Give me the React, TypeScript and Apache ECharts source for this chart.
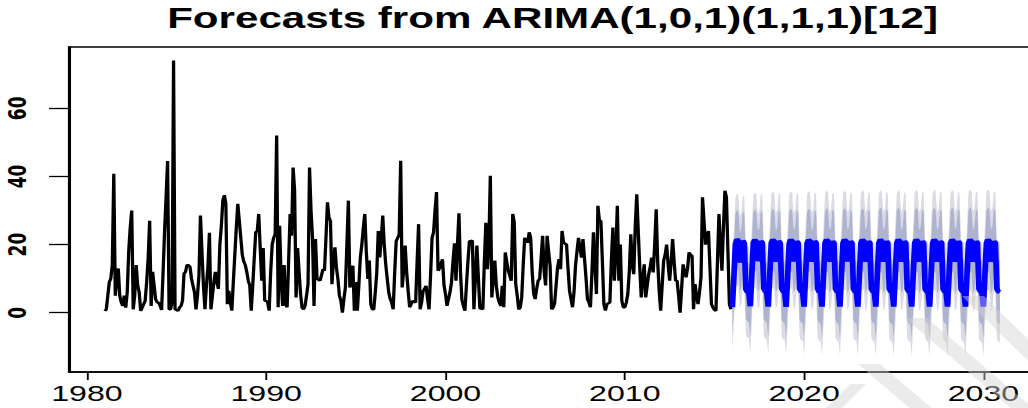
import React, { useEffect, useRef } from "react";
import * as echarts from "echarts";

const TITLE = "Forecasts from ARIMA(1,0,1)(1,1,1)[12]";
const HIST_START = 1981;
const FC_START = 2016;
const X_TICKS = [1980, 1990, 2000, 2010, 2020, 2030];
const Y_TICKS = [0, 20, 40, 60];

// monthly observations, Jan 1981 - Dec 2015
const history = [
  0.5, 1, 5, 9, 10, 14, 40.8, 5, 10, 13, 5, 3,
  2, 5, 1.5, 6, 18, 25, 30, 1, 5, 14, 8, 6,
  0.5, 1.5, 2.5, 3.5, 9, 16, 27, 2, 12, 8, 4, 3,
  3, 2, 0.8, 12, 24, 34, 44.5, 1, 1, 3, 74, 1,
  0.8, 0.5, 1.5, 2, 3.5, 11.5, 12, 14, 14, 13.5, 10, 8,
  6, 1, 5, 11, 28.5, 18, 8, 1, 8, 13.5, 23.5, 1,
  5, 9, 12, 9, 7, 20, 25.6, 33, 34.5, 32, 2.5, 6.4,
  3, 0.6, 9, 17, 25, 32, 27, 22, 17, 15, 14, 12,
  9.4, 8, 0.6, 8, 16, 23.6, 24, 29, 19, 9.4, 19, 3.5,
  3.5, 3, 0.6, 12, 20, 22, 23, 52, 1.6, 25.5, 10, 2,
  14, 2.5, 1.6, 15, 29, 22.6, 42.6, 36, 4.5, 19, 12, 5.5,
  1.5, 1, 2, 5, 8.4, 42.6, 30, 22, 2, 21.6, 10, 9.7,
  9.4, 11, 12.8, 12.3, 22, 32.4, 28, 27, 8.4, 15, 19.2, 13.3,
  9.9, 5, 3.5, 0, 4, 7.4, 20, 32.9, 7.4, 10, 13.8, 0.6,
  9, 0.6, 8, 16.2, 20, 25, 29, 18, 9.9, 15.3, 2.5, 1,
  1, 6, 11.8, 24, 16.2, 22, 28.5, 20, 14.2, 10, 6, 4,
  3, 1, 12, 21, 22, 23, 44.6, 7.4, 12.3, 19.7, 12, 6.4,
  1.6, 2.5, 3.5, 3.2, 3, 15, 26, 1, 3, 6.4, 7, 7.9,
  4, 1, 11, 22, 23.6, 30, 35.4, 12.3, 13, 14.5, 15.7, 8,
  5.5, 2, 4, 6, 8.9, 15, 20.4, 9.4, 20, 29.2, 12, 3.7,
  2, 0.6, 8, 15, 21, 21, 21.2, 1, 10, 19.7, 10.4, 1.3,
  1.2, 1, 15, 26.4, 12.8, 20, 40.2, 4.5, 10, 15.3, 8, 4.5,
  3, 2, 7.9, 1.6, 17.7, 15, 12.3, 11, 9.4, 29, 26.5, 8.4,
  5, 1, 1.5, 4.5, 14, 22, 21, 20.6, 23.6, 22, 12, 5.5,
  4, 7, 9.4, 9.9, 16, 22.6, 12.3, 8, 22.6, 18, 13.8, 1,
  1.5, 2.7, 8, 13.3, 15.7, 12.8, 24, 20.6, 20.3, 20, 13, 6.4,
  4, 1.6, 6, 13.8, 18, 22, 19, 16.2, 21.6, 16, 10.4, 4,
  3, 1.6, 12, 23.6, 14, 5.5, 31.4, 27, 27, 15, 2.5, 0.6,
  2.5, 2.8, 3, 15.3, 25, 9.4, 18, 31.4, 9.4, 20, 3.5, 1.6,
  1.6, 3, 5.5, 12, 23, 14, 11.3, 25.5, 34.8, 24, 13.3, 4.5,
  10, 14.2, 4.5, 8, 11.3, 13.5, 16.2, 11.8, 20, 30.4, 15, 6.4,
  0.6, 8, 15.3, 17, 20, 14, 9.4, 15, 21.6, 15, 9.4, 9.4,
  5, 0, 7, 14.2, 12, 10.4, 13, 17.7, 17, 16.7, 1, 8.4,
  5, 2.5, 6, 10.4, 33.9, 27, 20, 22, 24, 13, 2.5, 1.5,
  0.8, 0.6, 15, 29, 20, 12.3, 25, 35.8, 33.9, 18, 2.5, 1,
];

// point forecasts, Jan 2016 - Dec 2030
const forecastMean = [
  1.6, 10.5, 20.2, 21.6, 21.1, 14.8, 16.1, 21.2, 20.4, 6.8, 6.1, 5.9,
  1.9, 11.2, 20.6, 21.4, 20.9, 15.2, 15.8, 21.0, 20.6, 7.1, 6.3, 6.0,
  1.8, 11.0, 20.5, 21.5, 21.0, 15.0, 16.0, 21.1, 20.5, 7.0, 6.2, 6.0,
  1.7, 10.9, 20.4, 21.5, 21.0, 15.1, 16.0, 21.0, 20.5, 7.0, 6.2, 6.1,
  1.8, 11.1, 20.5, 21.4, 21.0, 15.0, 15.9, 21.0, 20.6, 7.0, 6.1, 6.0,
  1.8, 11.0, 20.5, 21.5, 21.0, 15.0, 16.0, 21.0, 20.5, 7.0, 6.2, 6.0,
  1.8, 11.0, 20.5, 21.5, 21.0, 15.1, 16.0, 21.0, 20.5, 7.0, 6.2, 6.0,
  1.8, 11.0, 20.5, 21.5, 21.0, 15.0, 16.0, 21.0, 20.5, 7.0, 6.2, 6.0,
  1.8, 11.0, 20.5, 21.5, 21.0, 15.0, 16.0, 21.0, 20.5, 7.0, 6.2, 6.0,
  1.8, 11.0, 20.5, 21.5, 21.0, 15.0, 16.0, 21.0, 20.5, 7.0, 6.2, 6.0,
  1.8, 11.0, 20.5, 21.5, 21.0, 15.0, 16.0, 21.0, 20.5, 7.0, 6.2, 6.0,
  1.8, 11.0, 20.5, 21.5, 21.0, 15.0, 16.0, 21.0, 20.5, 7.0, 6.2, 6.0,
  1.8, 11.0, 20.5, 21.5, 21.0, 15.0, 16.0, 21.0, 20.5, 7.0, 6.2, 6.0,
  1.8, 11.0, 20.5, 21.5, 21.0, 15.0, 16.0, 21.0, 20.5, 7.0, 6.2, 6.0,
  1.8, 11.0, 20.5, 21.5, 21.0, 15.0, 16.0, 21.0, 20.5, 7.0, 6.2, 6.0,
];

// prediction-interval half-widths per forecast year
const hw80 = [8.6, 8.9, 9.0, 9.1, 9.1, 9.2, 9.2, 9.2, 9.3, 9.3, 9.3, 9.3, 9.4, 9.4, 9.4];
const hw95 = [13.4, 13.9, 14.1, 14.2, 14.3, 14.4, 14.4, 14.5, 14.5, 14.5, 14.6, 14.6, 14.6, 14.7, 14.7];

const SX = 1028 / 720;
const W = 730;
const H = 408;

// watermark stripes (screen px)
const stripes = [
  [[858, 364], [880, 364], [934, 410], [912, 410]],
  [[905, 318], [927, 318], [1035, 410], [1013, 410]],
  [[962, 296], [984, 296], [1100, 410], [1078, 410]],
  [[850, 384], [866, 384], [840, 410], [824, 410]],
];

export default function App() {
  const ref = useRef<HTMLDivElement>(null);
  useEffect(() => {
    const chart = echarts.init(ref.current!, null, { renderer: "svg" });
    const histData = history.map((v, i) => [HIST_START + i / 12, v]);
    const fcT = forecastMean.map((_, i) => FC_START + i / 12);
    const lo95 = forecastMean.map((v, i) => v - hw95[Math.floor(i / 12)]);
    const hi95 = forecastMean.map((v, i) => v + hw95[Math.floor(i / 12)]);
    const lo80 = forecastMean.map((v, i) => v - hw80[Math.floor(i / 12)]);
    const hi80 = forecastMean.map((v, i) => v + hw80[Math.floor(i / 12)]);

    const band = (lo: number[], hi: number[], color: string, name: string) => ({
      type: "custom",
      name,
      silent: true,
      clip: true,
      data: [[fcT[0], lo[0]]],
      renderItem: (params: any, api: any) => {
        const pts: number[][] = [];
        for (let i = 0; i < fcT.length; i++) pts.push(api.coord([fcT[i], hi[i]]));
        for (let i = fcT.length - 1; i >= 0; i--) pts.push(api.coord([fcT[i], lo[i]]));
        return {
          type: "polygon",
          shape: { points: pts },
          style: { fill: color, stroke: "none" },
        };
      },
    });

    chart.setOption({
      animation: false,
      backgroundColor: "#fff",
      title: {
        text: TITLE,
        left: 387,
        top: 3,
        padding: 0,
        textAlign: "center",
        textStyle: {
          fontFamily: "Liberation Sans",
          fontWeight: "bold",
          fontSize: 29.5,
          color: "#000",
        },
      },
      grid: {
        left: 48.3,
        right: 4.8,
        top: 47,
        bottom: 36,
        show: true,
        borderColor: "#000",
        borderWidth: 1.5,
        backgroundColor: "transparent",
        containLabel: false,
        outerBoundsMode: "none",
      },
      xAxis: {
        type: "value",
        min: 1979,
        max: 2032.9,
        axisLine: { show: true, onZero: false, lineStyle: { color: "#000", width: 1.5 } },
        axisTick: { show: true, length: 8, customValues: X_TICKS, lineStyle: { color: "#000", width: 1.3 } },
        axisLabel: {
          customValues: X_TICKS,
          color: "#000",
          fontSize: 22.5,
          fontFamily: "Liberation Sans",
          margin: 10,
          formatter: (v: number) => String(v),
        },
        splitLine: { show: false },
      },
      yAxis: {
        type: "value",
        min: -17.4,
        max: 78,
        axisLine: { show: true, onZero: false, lineStyle: { color: "#000", width: 1.5 } },
        axisTick: { show: true, length: 14, customValues: Y_TICKS, lineStyle: { color: "#000", width: 1.3 } },
        axisLabel: {
          customValues: Y_TICKS,
          rotate: 90,
          color: "#000",
          fontSize: 17,
          fontWeight: "bold",
          fontFamily: "DejaVu Sans",
          margin: 27,
          formatter: (v: number) => String(v),
        },
        splitLine: { show: false },
      },
      series: [
        band(lo95, hi95, "#DADBE4", "95%"),
        band(lo80, hi80, "#AEB3CF", "80%"),
        {
          type: "line",
          name: "history",
          symbol: "none",
          data: histData,
          lineStyle: { color: "#000", width: 2.3 },
          z: 5,
        },
        {
          type: "line",
          name: "forecast",
          symbol: "none",
          data: fcT.map((t, i) => [t, forecastMean[i]]),
          lineStyle: { color: "#0000FF", width: 4 },
          z: 6,
        },
      ],
      graphic: stripes.map((pts) => ({
        type: "polygon",
        z: 100,
        silent: true,
        shape: { points: pts.map(([x, y]) => [x / SX, y]) },
        style: { fill: "rgba(210,210,210,0.45)", stroke: "none" },
      })),
    });
    return () => chart.dispose();
  }, []);

  return (
    <div
      style={{
        position: "fixed",
        left: 0,
        top: 0,
        width: 1028,
        height: H,
        overflow: "hidden",
        background: "#fff",
      }}
    >
      <div
        ref={ref}
        style={{ width: W, height: H, transform: `scaleX(${SX})`, transformOrigin: "0 0" }}
      />
    </div>
  );
}
